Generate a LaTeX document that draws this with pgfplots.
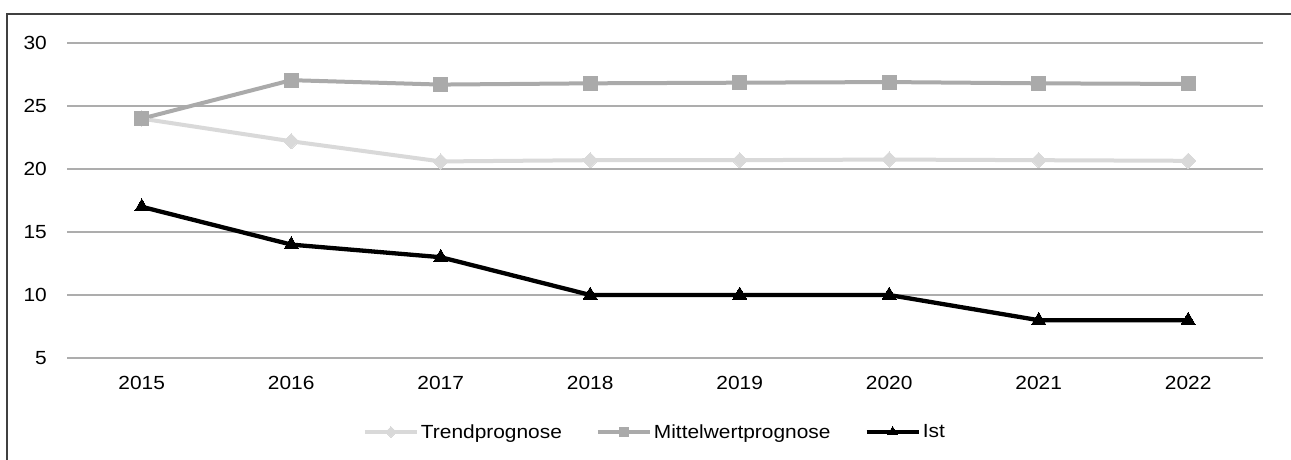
\documentclass[border=0pt]{standalone}
\usepackage{fontspec}
\setmainfont{Liberation Sans}
\usepackage{graphicx}
\usepackage{pgfplots}
\pgfplotsset{compat=1.18}
\definecolor{trendc}{HTML}{D9D9D9}
\definecolor{mittelc}{HTML}{AAAAAA}
\definecolor{gridc}{HTML}{ADADAD}
\definecolor{framec}{HTML}{404040}
\newcommand\chartfont{\fontsize{19pt}{23pt}\selectfont}
\newcommand\hx[1]{\scalebox{1.1}[1.0]{#1}}
\begin{document}
\begin{tikzpicture}[x=1pt,y=1pt]
\useasboundingbox (0,0) rectangle (1291,459);
\fill[white] (0,0) rectangle (1291,459);
\draw[framec, line width=1.4pt] (7,-5) -- (7,445) -- (1300,445);
\begin{axis}[
  at={(67pt,101pt)}, anchor=south west,
  width=1196pt, height=315pt, scale only axis,
  xmin=-0.5, xmax=7.5, ymin=5, ymax=30,
  xtick={0,...,7},
  xticklabels={\hx{2015},\hx{2016},\hx{2017},\hx{2018},\hx{2019},\hx{2020},\hx{2021},\hx{2022}},
  ytick={5,10,...,30},
  yticklabels={\hx{5},\hx{10},\hx{15},\hx{20},\hx{25},\hx{30}},
  axis line style={draw=none},
  major tick length=0pt,
  ymajorgrids, grid style={gridc, line width=1.3pt},
  tick label style={font=\chartfont, text=black},
  yticklabel style={anchor=east, inner sep=0pt, xshift=-20pt},
  xticklabel style={anchor=north, inner sep=0pt, yshift=-18.5pt},
  legend style={at={(0.4916,-0.235)}, anchor=center, draw=none, fill=none,
    font=\chartfont, legend columns=-1,
    /tikz/every even column/.append style={column sep=32pt}},
  legend cell align=left,
  legend image code/.code={\draw[mark repeat=2,mark phase=2, every mark/.append style={scale=0.7}] plot coordinates {(0pt,0pt)(26pt,0pt)(52pt,0pt)};},
]
\addplot[trendc, line width=4pt, mark=square*, mark size=5.4pt, mark options={rotate=45, line width=0pt}]
  coordinates {(0,24.0) (1,22.2) (2,20.6) (3,20.7) (4,20.7) (5,20.75) (6,20.7) (7,20.65)};
\addlegendentry{\hx{Trendprognose}}
\addplot[mittelc, line width=4pt, mark=square*, mark size=7pt, mark options={line width=0pt}]
  coordinates {(0,24.0) (1,27.05) (2,26.7) (3,26.8) (4,26.85) (5,26.9) (6,26.8) (7,26.75)};
\addlegendentry{\hx{Mittelwertprognose}}
\addplot[black, line width=4.3pt, mark=triangle*, mark size=8pt, mark options={line width=0pt}]
  coordinates {(0,17) (1,14) (2,13) (3,10) (4,10) (5,10) (6,8) (7,8)};
\addlegendentry{\hx{Ist}}
\end{axis}
\end{tikzpicture}
\end{document}
